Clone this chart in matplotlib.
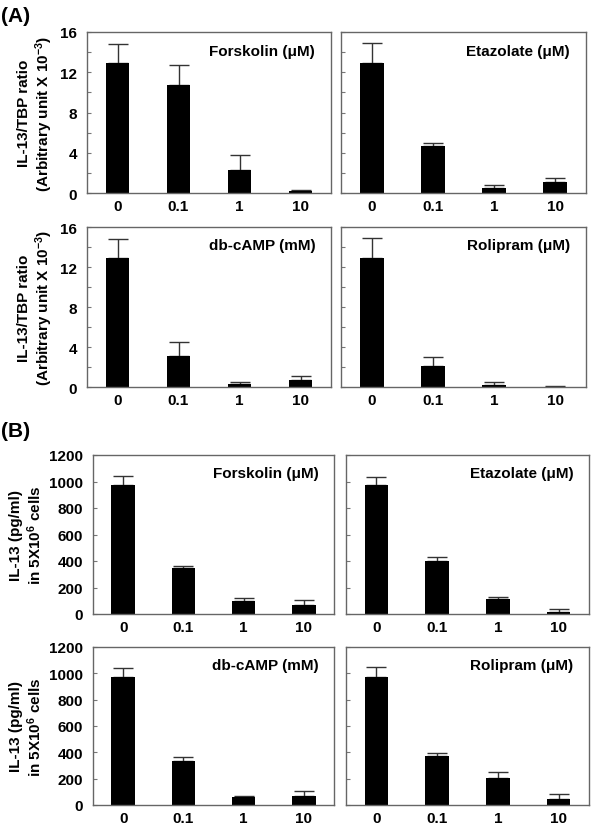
import numpy as np
import matplotlib
matplotlib.use('Agg')
import matplotlib.pyplot as plt
from matplotlib.ticker import MultipleLocator

plt.rcParams['font.family'] = ['Liberation Sans', 'DejaVu Sans']
plt.rcParams['font.weight'] = 'bold'
plt.rcParams['mathtext.fontset'] = 'custom'
plt.rcParams['mathtext.rm'] = 'Liberation Sans'
plt.rcParams['mathtext.it'] = 'Liberation Sans:italic'
plt.rcParams['mathtext.bf'] = 'Liberation Sans:bold'

doses = ['0', '0.1', '1', '10']

# (A) IL-13/TBP mRNA ratio
a_forskolin = [12.9, 10.7, 2.3, 0.2]
a_forskolin_err = [1.9, 2.0, 1.5, 0.1]
a_etazolate = [12.9, 4.7, 0.45, 1.05]
a_etazolate_err = [2.0, 0.3, 0.3, 0.4]
a_dbcamp = [12.9, 3.1, 0.27, 0.67]
a_dbcamp_err = [1.9, 1.4, 0.25, 0.45]
a_rolipram = [12.9, 2.1, 0.25, 0.05]
a_rolipram_err = [2.0, 0.95, 0.25, 0.07]

# (B) IL-13 protein (pg/ml)
b_forskolin = [975, 345, 97, 67]
b_forskolin_err = [65, 20, 25, 40]
b_etazolate = [970, 400, 112, 17]
b_etazolate_err = [65, 30, 18, 23]
b_dbcamp = [975, 335, 60, 65]
b_dbcamp_err = [65, 30, 12, 38]
b_rolipram = [975, 372, 205, 48]
b_rolipram_err = [70, 25, 43, 37]

W, H = 600, 828
fig = plt.figure(figsize=(W / 100, H / 100), dpi=100)


def px_axes(x0, x1, y0, y1):
    return fig.add_axes([x0 / W, 1 - y1 / H, (x1 - x0) / W, (y1 - y0) / H])


def panel(ax, vals, errs, title, ymax, major, minor, show_labels, ylabel):
    x = np.arange(len(doses))
    ax.bar(x, vals, width=0.39, color='black', zorder=2)
    ax.errorbar(x, vals, yerr=[np.zeros(len(vals)), errs], fmt='none',
                ecolor='#333333', elinewidth=1.0, capsize=7, capthick=1.0, zorder=1)
    ax.set_xlim(-0.5, 3.5)
    ax.set_ylim(0, ymax)
    ax.set_xticks(x)
    ax.set_xticklabels(doses, fontsize=11, fontweight='bold')
    ax.tick_params(axis='x', length=0, pad=4)
    ax.yaxis.set_major_locator(MultipleLocator(major))
    if minor:
        ax.yaxis.set_minor_locator(MultipleLocator(minor))
    ax.tick_params(axis='y', which='both', direction='in', length=3, width=0.8,
                   color='#777777', pad=7, labelsize=11)
    if not show_labels:
        ax.set_yticklabels([])
    for s in ax.spines.values():
        s.set_color('#666666')
        s.set_linewidth(1.0)
    ax.text(0.935, 0.885, title, transform=ax.transAxes, ha='right', va='center',
            fontsize=11, fontweight='bold')
    if ylabel:
        ax.set_ylabel(ylabel, fontsize=11, fontweight='bold', linespacing=1.15, labelpad=4)


ylab_a = 'IL-13/TBP ratio\n(Arbitrary unit X 10$^{-3}$)'
ylab_b = 'IL-13 (pg/ml)\nin 5X10$^{6}$ cells'

ax1 = px_axes(87, 331, 33, 194)
panel(ax1, a_forskolin, a_forskolin_err, 'Forskolin (\u03bcM)', 16, 4, 2, True, ylab_a)
ax2 = px_axes(341, 586, 33, 194)
panel(ax2, a_etazolate, a_etazolate_err, 'Etazolate (\u03bcM)', 16, 4, 2, False, None)
ax3 = px_axes(87, 331, 228, 388)
panel(ax3, a_dbcamp, a_dbcamp_err, 'db-cAMP (mM)', 16, 4, 2, True, ylab_a)
ax4 = px_axes(341, 586, 228, 388)
panel(ax4, a_rolipram, a_rolipram_err, 'Rolipram (\u03bcM)', 16, 4, 2, False, None)

ax5 = px_axes(93, 334, 456, 615)
panel(ax5, b_forskolin, b_forskolin_err, 'Forskolin (\u03bcM)', 1200, 200, None, True, ylab_b)
ax6 = px_axes(346, 589, 456, 615)
panel(ax6, b_etazolate, b_etazolate_err, 'Etazolate (\u03bcM)', 1200, 200, None, False, None)
ax7 = px_axes(93, 334, 648, 806)
panel(ax7, b_dbcamp, b_dbcamp_err, 'db-cAMP (mM)', 1200, 200, None, True, ylab_b)
ax8 = px_axes(346, 589, 648, 806)
panel(ax8, b_rolipram, b_rolipram_err, 'Rolipram (\u03bcM)', 1200, 200, None, False, None)

fig.text(1 / W, 1 - 16 / H, '(A)', fontsize=15, fontweight='bold', va='center', ha='left')
fig.text(1 / W, 1 - 432 / H, '(B)', fontsize=15, fontweight='bold', va='center', ha='left')

fig.savefig('out.png', dpi=100)
